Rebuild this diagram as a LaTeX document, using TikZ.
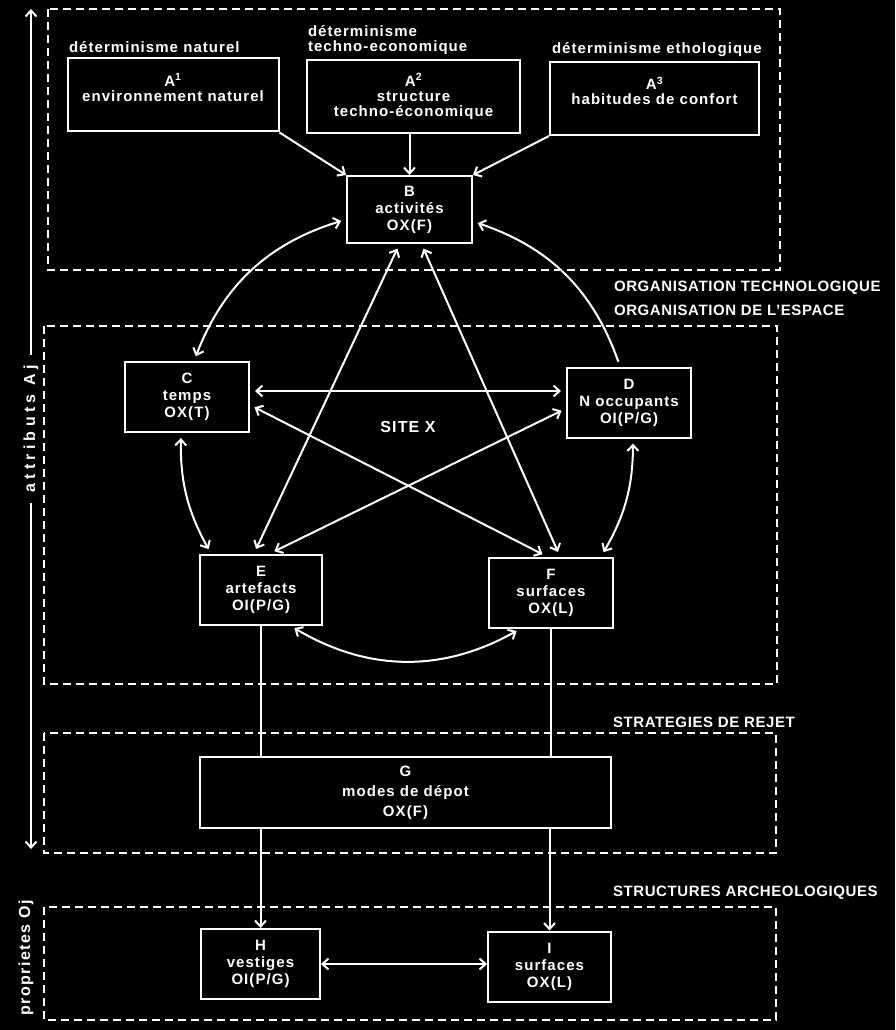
\documentclass[tikz,border=0pt]{standalone}
\usepackage{fontspec}
\setmainfont{Liberation Sans}[LetterSpace=7]
\usepackage{tikz}
\usetikzlibrary{arrows.meta}

\begin{document}
\begin{tikzpicture}[x=1pt,y=1pt,white,line width=2pt,
        >={Straight Barb[length=6pt,width=11pt]},
        boite/.style={draw,align=center,inner sep=0pt,minimum width=124pt,minimum height=70pt,
            font=\fontsize{15}{17}\selectfont\bfseries},
        grande/.style={boite,minimum width=211pt,minimum height=73pt,
            font=\fontsize{15}{15}\selectfont\bfseries},
        etiquette/.style={anchor=west,align=left,inner sep=0pt,
            font=\fontsize{15}{15}\selectfont\bfseries},
        niveau/.style={anchor=west,inner sep=0pt,
            font=\fontsize{15}{16}\selectfont\bfseries\addfontfeature{LetterSpace=4}},
        lien/.style={<->,shorten >=5pt,shorten <=5pt},
        cadre/.style={dash pattern=on 8pt off 5pt}]
            \fill[black] (0,0) rectangle (895,-1030);
            \useasboundingbox (0,0) rectangle (895,-1030);

            \draw[cadre] (48,-9) rectangle (780,-270);
            \draw[cadre] (44,-326) rectangle (777,-684);
            \draw[cadre] (44,-733) rectangle (776,-853);
            \draw[cadre] (44,-907) rectangle (776,-1020);

            \node[etiquette] (dn) at (68,-47) {déterminisme naturel};
            \node[etiquette] (dt) at (307,-40) {déterminisme\\techno-economique};
            \node[etiquette] (de) at (551,-50) {déterminisme ethologique};

            \node[grande] (A1) at (173,-95) {A\textsuperscript{1}\\environnement naturel\\\mbox{}};
            \node[grande,minimum width=213pt] (A2) at (413.5,-96.5) {A\textsuperscript{2}\\structure\\techno-économique};
            \node[grande,minimum width=209pt] (A3) at (654.5,-98.5) {A\textsuperscript{3}\\habitudes de confort\\\mbox{}};

            \node[boite,minimum width=125pt,minimum height=67pt] (B) at (409.5,-209.5) {B\\activités\\OX(F)};
            \node[boite] (C) at (187,-397) {C\\temps\\OX(T)};
            \node[boite] (D) at (629,-402.5) {D\\N occupants\\OI(P/G)};
            \node[boite,minimum width=122pt] (E) at (261,-589.5) {E\\artefacts\\OI(P/G)};
            \node[boite] (F) at (551,-592.5) {F\\surfaces\\OX(L)};
            \node[boite,minimum width=411pt,minimum height=71pt,font=\fontsize{15}{20}\selectfont\bfseries] (G) at (405.5,-792.5) {G\\modes de dépot\\OX(F)};
            \node[boite,minimum width=119pt] (H) at (260.5,-964) {H\\vestiges\\OI(P/G)};
            \node[boite,minimum width=123pt] (I) at (549.5,-966.5) {I\\surfaces\\OX(L)};

            \node[font=\fontsize{16}{18}\selectfont\bfseries] (site) at (408,-427) {SITE X};

            \node[niveau] (orgtech) at (613,-288) {ORGANISATION TECHNOLOGIQUE};
            \node[niveau] (orgesp) at (613,-310) {ORGANISATION DE L’ESPACE};
            \node[niveau] (rejet) at (612,-722) {STRATEGIES DE REJET};
            \node[niveau] (archeo) at (612,-893) {STRUCTURES ARCHEOLOGIQUES};

            % axe vertical
            \node[rotate=90,inner sep=9pt,font=\fontsize{16}{18}\selectfont\bfseries\addfontfeature{LetterSpace=27}] (attr) at (31,-429) {attributs Aj};
            \node[rotate=90,inner sep=0pt,font=\fontsize{16}{18}\selectfont\bfseries\addfontfeature{LetterSpace=9}] (prop) at (26,-958) {proprietes Oj};
            \coordinate (haut) at (31,-9);
            \coordinate (bas) at (31,-849);
            \draw[->] (attr) -- (haut);
            \draw[->] (attr) -- (bas);

            \draw[->] (A1.south east) -- (B.north west);
            \draw[->] (B.north |- A2.south) -- (B.north);
            \draw[->] (A3.south west) -- (B.north east);

            \draw[lien] ([yshift=-10pt]B.west) to[bend right=26] ([xshift=7pt]C.north);
            \draw[lien] ([xshift=-6pt]C.south) to[bend right=15] ([xshift=12pt]E.north west);
            \draw[lien] ([xshift=-33pt]E.south east) to[bend right=30] ([xshift=33pt]F.south west);
            \draw[lien] ([xshift=-13pt]F.north east) to[bend right=15] ([xshift=4pt]D.south);
            \draw[lien,<-] ([yshift=-12pt]B.east) to[bend left=26] ([xshift=-9pt]D.north);

            \draw[lien] ([xshift=-10pt]B.south) -- ([xshift=-7pt]E.north);
            \draw[lien] ([xshift=12pt]B.south) -- ([xshift=9pt]F.north);
            \draw[lien] ([yshift=6pt]C.east) -- ([yshift=6pt]C.east -| D.west);
            \draw[lien] ([yshift=-8pt]C.east) -- ([xshift=-4pt]F.north);
            \draw[lien] ([xshift=9pt]E.north) -- ([yshift=-6pt]D.west);

            \draw (E.south) -- (E.south |- G.north);
            \draw (F.south) -- (F.south |- G.north);
            \draw[->] (H.north |- G.south) -- (H.north);
            \draw[->] (I.north |- G.south) -- (I.north);
            \draw[<->] (H.east) -- (H.east -| I.west);
        \end{tikzpicture}
\end{document}
